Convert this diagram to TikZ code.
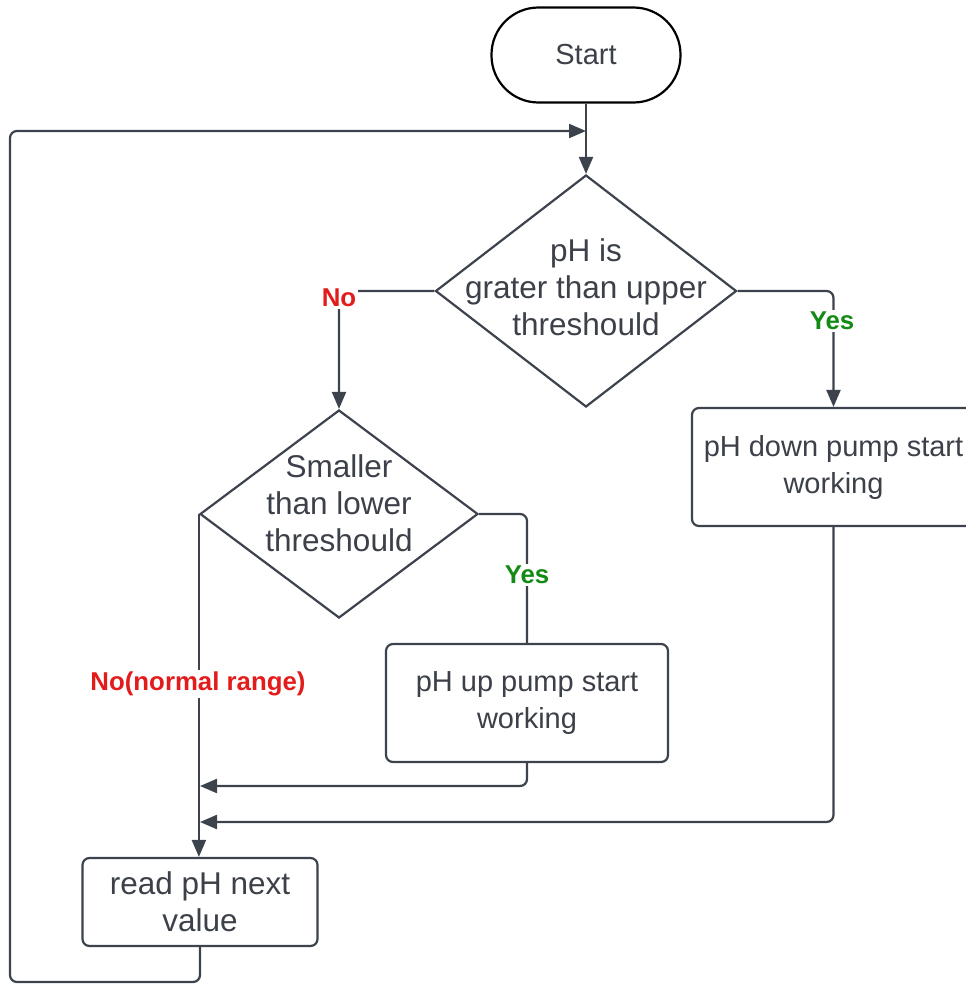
\documentclass[tikz,border=0pt]{standalone}
\usepackage{fontspec}
\setmainfont{Liberation Sans}
\usetikzlibrary{shapes.geometric,arrows.meta}
\definecolor{ln}{HTML}{3D434C}
\definecolor{tx}{HTML}{3C4049}
\definecolor{rd}{HTML}{E31B1B}
\definecolor{gr}{HTML}{138A13}
\tikzset{
  base/.style={font=\fontsize{29}{37}\selectfont, text=tx, align=center},
  big/.style={font=\fontsize{31.5}{37}\selectfont, text=tx, align=center},
  dia/.style={diamond, draw=ln, line width=2.2pt, inner sep=0pt, fill=white},
  box/.style={base, rectangle, draw=ln, line width=2.2pt, rounded corners=7pt, fill=white},
  conn/.style={draw=ln, line width=2.2pt, rounded corners=7pt},
  arr/.style={conn, -{Triangle[length=17pt,width=14pt]}},
  lblr/.style={font=\fontsize{25.8}{30}\selectfont\bfseries, text=rd, fill=white, inner sep=2pt},
  lblg/.style={font=\fontsize{25.8}{30}\selectfont\bfseries, text=gr, fill=white, inner sep=2pt},
}
\begin{document}
\begin{tikzpicture}[x=1pt,y=-1pt]
\useasboundingbox (0,0) rectangle (966,985);
\fill[white] (0,0) rectangle (966,985);
% nodes
\node[base, draw=black, line width=2.2pt, rounded corners=47pt, minimum width=189pt, minimum height=95pt] (start) at (586,55) {Start};
\node[dia, minimum width=301pt, minimum height=232pt] (d1) at (586,291) {};
\node[big] (t1) at (586,287) {pH is\\grater than upper\\threshould};
\node[dia, minimum width=278pt, minimum height=208pt] (d2) at (339,514) {};
\node[big] (t2) at (339,503) {Smaller\\than lower\\threshould};
\node[box, minimum width=283pt, minimum height=118pt] (bdown) at (833.5,467) {pH down pump start\\working};
\node[box, minimum width=282pt, minimum height=118pt] (bup) at (527,703) {pH up pump start\\working};
\node[box, big, minimum width=235pt, minimum height=88pt] (bread) at (200,902) {read pH next\\value};
% junction coordinates
\coordinate (j1) at (200,786);
\coordinate (j2) at (200,822);
\coordinate (top) at (586,131);
\coordinate (bl) at (10,982);
% connectors
\draw[arr] (start.south) -- (d1.north);
\draw[arr] (d1.west) -| (d2.north);
\draw[arr] (d1.east) -| (bdown.north);
\draw[conn] (d2.east) -| (bup.north);
\draw[arr] (d2.west) -- (d2.west |- bread.north);
\draw[arr] (bup.south) |- (j1);
\draw[arr] (bdown.south) |- (j2);
\draw[arr] (bread.south) |- (bl) |- (top);
% labels
\node[lblr] (lno) at (339,298) {No};
\node[lblg] (lyes1) at (832,321) {Yes};
\node[lblg] (lyes2) at (527,575) {Yes};
\node[lblr] (lnorm) at (198,684) {No(normal range)};
\end{tikzpicture}
\end{document}
